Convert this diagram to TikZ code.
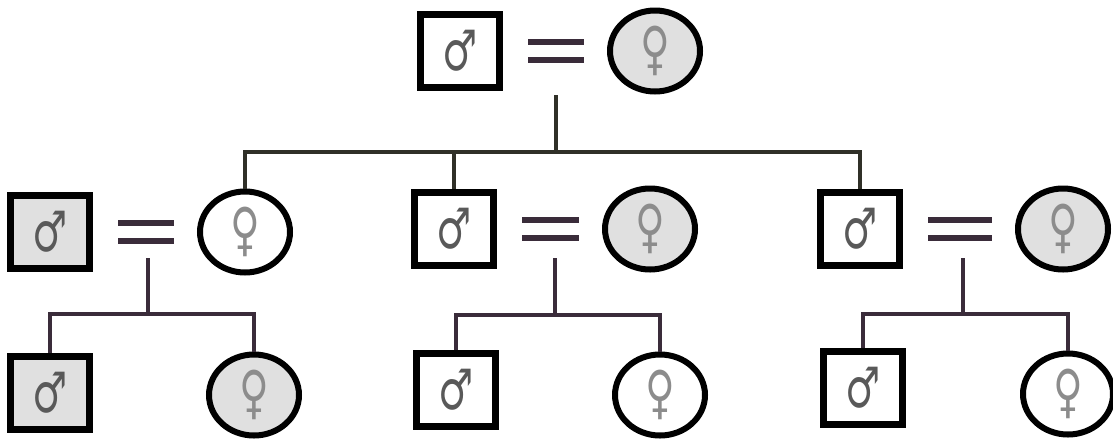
\documentclass[tikz,border=0pt]{standalone}
\usepackage{fontspec}
\usepackage{xcolor}
\usetikzlibrary{calc, positioning, shapes.geometric}
\newfontfamily\symfont[FakeStretch=0.7]{DejaVu Sans}
\definecolor{kinline}{RGB}{58,44,58}
\definecolor{topline}{RGB}{48,48,40}
\definecolor{carrier}{RGB}{224,224,224}

\begin{document}
\begin{tikzpicture}[x=1pt, y=-1pt,
    male/.style={draw, rectangle, line width=7pt, minimum width=79pt, minimum height=73pt, inner sep=0pt,
        font=\symfont\fontsize{56}{56}\selectfont, text=black!65},
    female/.style={draw, ellipse, line width=6pt, minimum width=90pt, minimum height=81pt, inner sep=0pt,
        font=\symfont\fontsize{58}{58}\selectfont, text=black!45},
    shaded/.style={fill=carrier},
    kin/.style={draw=kinline, line width=4pt},
    marriage/.style={draw=kinline, line width=5.5pt, shorten <=25pt, shorten >=23pt}]
    \useasboundingbox (0,0) rectangle (1113,440);

    % Generation I
    \node[male] (m1) at (460,51) {♂};
    \node[female, shaded] (f1) at (655,51) {♀};

    % Generation II
    \node[male, shaded] (m2) at (50,232) {♂};
    \node[female] (f2) at (245,232) {♀};
    \node[male] (m3) at (454,229) {♂};
    \node[female, shaded] (f3) at (650,229) {♀};
    \node[male] (m4) at (860,229) {♂};
    \node[female, shaded] (f4) at (1063,229) {♀};

    % Generation III
    \node[male, shaded] (m5) at (50,393) {♂};
    \node[female, shaded] (f5) at (254,395) {♀};
    \node[male] (m6) at (456,390) {♂};
    \node[female] (f6) at (660,395) {♀};
    \node[male] (m7) at (863,388) {♂};
    \node[female] (f7) at (1068,394) {♀};

    % Marriages
    \foreach \m/\f in {m1/f1, m2/f2, m3/f3, m4/f4} {
        \draw[marriage] ([yshift=9pt]\m.east) -- ([yshift=9pt]\f.west);
        \draw[marriage] ([yshift=-9pt]\m.east) -- ([yshift=-9pt]\f.west);
    }

    % Descent lines
    \coordinate (s1) at (556,95);
    \coordinate (j1) at (556,152);
    \coordinate (s2) at (148,258);
    \coordinate (j2) at (148,314);
    \coordinate (s3) at (555,258);
    \coordinate (j3) at (555,315);
    \coordinate (s4) at (963,258);
    \coordinate (j4) at (963,314);

    \draw[kin, draw=topline] (s1) -- (j1);
    \draw[kin, draw=topline] (f2.north) |- (j1) -| (m4.north);
    \draw[kin, draw=topline] (m3.north) -- (m3.north |- j1);

    \draw[kin] (s2) -- (j2);
    \draw[kin] (m5.north) |- (j2) -| (f5.north);
    \draw[kin] (s3) -- (j3);
    \draw[kin] (m6.north) |- (j3) -| (f6.north);
    \draw[kin] (s4) -- (j4);
    \draw[kin] (m7.north) |- (j4) -| (f7.north);
\end{tikzpicture}
\end{document}
